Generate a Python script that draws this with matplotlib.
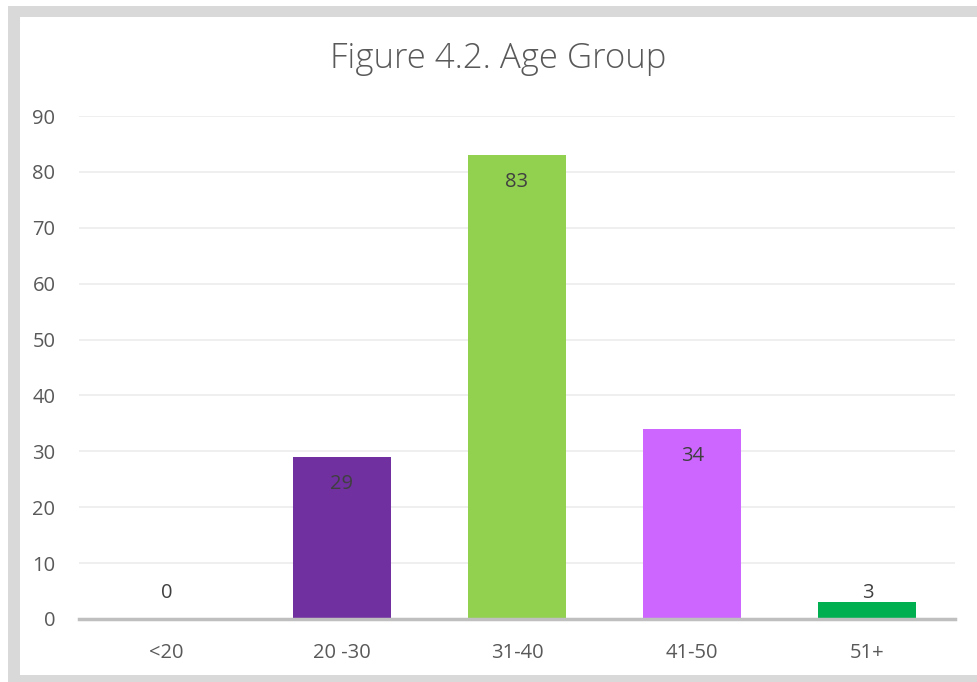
import matplotlib
matplotlib.use("Agg")
import matplotlib.pyplot as plt
from matplotlib.patches import Rectangle

categories = ["<20", "20 -30", "31-40", "41-50", "51+"]
values = [0, 29, 83, 34, 3]
colors = ["#4472c4", "#7030a0", "#92d050", "#cc66ff", "#00b050"]
title = "Figure 4.2. Age Group"

plt.rcParams['font.family'] = ['Open Sans', 'DejaVu Sans']

W, H = 978, 682
fig = plt.figure(figsize=(W / 100, H / 100), dpi=100)
fig.patch.set_facecolor("white")

# grey frame
fig.add_artist(Rectangle((8 / W, 0), 1.2, (H - 6) / H, transform=fig.transFigure,
                         facecolor="#d9d9d9", edgecolor="none", zorder=0))
fig.add_artist(Rectangle((20 / W, 7 / H), 1.2, (H - 17 - 7) / H, transform=fig.transFigure,
                         facecolor="white", edgecolor="none", zorder=0))

left, right = 79, 955
bottom, top = 619, 116
ax = fig.add_axes([left / W, (H - bottom) / H, (right - left) / W, (bottom - top) / H])
ax.set_facecolor("none")
x = list(range(len(categories)))
ax.bar(x, values, width=0.56, color=colors, zorder=2)
ax.set_xlim(-0.5, len(categories) - 0.5)
ymax = 90
ax.set_ylim(0, ymax)
ax.set_yticks(range(0, 91, 10))
ax.set_xticks(x)
ax.set_xticklabels(categories)
ax.tick_params(axis="both", length=0, labelsize=14.5, colors="#595959")
ax.tick_params(axis="x", pad=17)
ax.tick_params(axis="y", pad=17)
ax.grid(axis="y", color="#eeeeee", linewidth=1.3, zorder=0)
for s in ["top", "right", "left"]:
    ax.spines[s].set_visible(False)
ax.spines["bottom"].set_color("#bfbfbf")
ax.spines["bottom"].set_linewidth(2.5)
ax.spines["bottom"].set_zorder(3)

px_per_unit = (bottom - top) / ymax
for xi, v in zip(x, values):
    off_px = max(v * px_per_unit - 27, 26)
    ax.annotate(str(v), (xi, 0), xytext=(0, off_px * 0.72), textcoords="offset points",
                ha="center", va="center", fontsize=14.5, color="#404040", zorder=4)

fig.text(498 / W, 1 - 68 / H, title, ha="center", va="baseline", fontsize=25,
         fontweight="light", color="#595959")

fig.savefig("out.png", dpi=100)
